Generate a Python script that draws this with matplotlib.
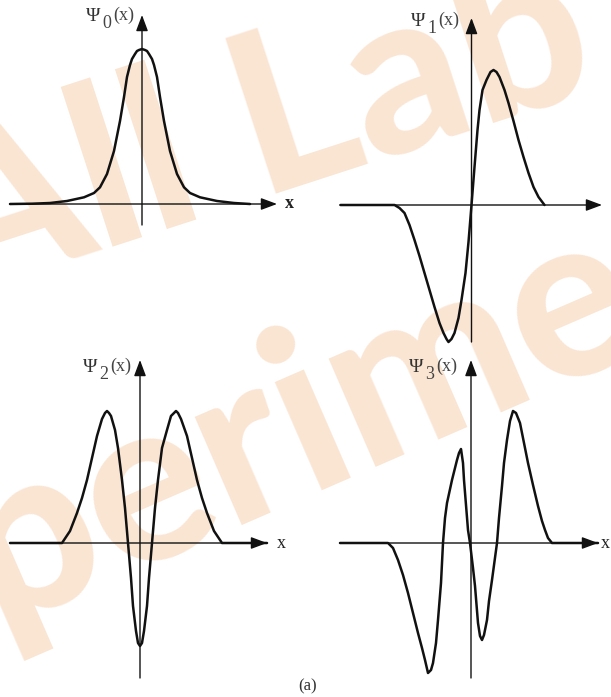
import matplotlib
matplotlib.use('Agg')
import matplotlib.pyplot as plt

W, H = 611, 697

# wavefunction shapes: x offset from the y axis, height above the x axis (px units)
psi0_x = [-132, -110, -92, -75, -58, -48, -42, -35, -28, -25, -22, -18, -15, -12, -10, -7, -5, -3, 0,
          3, 5, 7, 10, 12, 15, 18, 22, 25, 28, 35, 42, 48, 58, 75, 92, 108]
psi0_y = [0, 0.3, 1, 3, 6.7, 11, 16.7, 30, 53, 68, 83, 107, 127, 139, 145, 150, 153, 154, 155,
          154, 153, 150, 145, 139, 127, 107, 83, 68, 53, 30, 16.7, 11, 6.7, 3, 1, 0]

psi1_x = [-131, -77, -72, -67, -62, -57, -52, -47, -42, -37, -32, -28, -25, -23, -20, -17, -13, -10, -6, -3, 0,
          3, 6, 8, 11, 15, 19, 22, 25, 28, 33, 37, 42, 47, 52, 57, 62, 67, 73]
psi1_y = [0, 0, -3, -8, -20, -35, -51, -68, -85, -102, -118, -128, -134, -137, -134, -128, -113, -95, -68, -37, 0,
          38, 75, 95, 115, 125, 133, 135, 133, 128, 115, 102, 84, 65, 48, 32, 18, 8, 0]

psi2_x = [-130, -78, -70, -63, -58, -53, -48, -43, -38, -35, -33, -31, -29, -25, -22, -18, -15, -12, -9, -7, -4, -2, 0,
          2, 4, 7, 9, 12, 15, 18, 22, 27, 31, 34, 36, 38, 41, 47, 52, 57, 62, 67, 74, 82, 127]
psi2_y = [0, 0, 12, 30, 45, 63, 85, 107, 124, 130, 132, 130, 127, 113, 95, 63, 35, 0, -35, -63, -88, -100, -103,
          -100, -88, -63, -35, 0, 35, 63, 95, 113, 127, 130, 132, 130, 124, 107, 85, 63, 45, 30, 12, 0, 0]

psi3_x = [-131, -83, -78, -73, -68, -63, -58, -53, -49, -46, -43, -40, -38, -35, -33, -30, -28, -26, -24, -19, -14, -12,
          -10, -8, -7, -5, -3, -1, 2, 4, 7, 9, 11, 13, 16, 18, 21, 26, 28, 31, 33, 36, 39, 42, 45, 49, 53, 57, 62, 67,
          71, 74, 77, 81, 127]
psi3_y = [0, 0, -5, -17, -32, -50, -70, -90, -105, -117, -130, -127, -120, -100, -77, -40, 0, 25, 40, 63, 83, 90,
          94, 80, 63, 38, 13, 0, -25, -43, -80, -93, -97, -92, -77, -58, -37, 0, 25, 57, 80, 103, 122, 132, 130, 120,
          100, 80, 58, 37, 22, 13, 5, 0, 0]

fig = plt.figure(figsize=(W / 100, H / 100), dpi=100)
plt.rcParams['font.family'] = 'Liberation Serif'

# faint watermark behind everything
bg = fig.add_axes([0, 0, 1, 1], zorder=0)
bg.set_xlim(0, W)
bg.set_ylim(H, 0)
bg.axis('off')
wm = dict(color='#f5c297', alpha=0.42, family='Lato', fontweight='black',
          ha='left', va='baseline', rotation_mode='anchor')
bg.text(-50, 300, 'All Lab', rotation=18, fontsize=162, **wm)
bg.text(-236, 725, 'Experiments', rotation=23.5, fontsize=165, **wm)


def panel(rect, origin, xs, ys, axis_x, axis_y, sub, label_pos, xlabel=None):
    x0, y0, x1, y1 = rect
    ox, oy = origin
    ax = fig.add_axes([x0 / W, 1 - y1 / H, (x1 - x0) / W, (y1 - y0) / H], zorder=1)
    ax.set_xlim(x0 - ox, x1 - ox)
    ax.set_ylim(oy - y1, oy - y0)
    ax.axis('off')
    ax.patch.set_alpha(0)
    arr = dict(arrowstyle='-|>,head_length=0.75,head_width=0.28', color='#111111', lw=1.0,
               shrinkA=0, shrinkB=0, mutation_scale=13)
    ax.annotate('', xy=(axis_x[1] - ox, 0), xytext=(axis_x[0] - ox, 0), arrowprops=arr, annotation_clip=False)
    ax.annotate('', xy=(0, oy - axis_y[1]), xytext=(0, oy - axis_y[0]), arrowprops=arr, annotation_clip=False)
    ax.plot(xs, ys, color='#111111', lw=1.8, solid_capstyle='round', solid_joinstyle='round', clip_on=False)
    lx, ly = label_pos
    ax.text(lx - ox, oy - ly, 'Ψ', fontsize=14, color='#333333', ha='left', va='baseline')
    ax.text(lx + 16 - ox, oy - ly - 7, sub, fontsize=13, color='#444444', ha='left', va='baseline')
    ax.text(lx + 27 - ox, oy - ly + 1, '(x)', fontsize=13, color='#444444', ha='left', va='baseline')
    if xlabel:
        t, px, bold = xlabel
        ax.text(px - ox, 0, t, fontsize=13, color='#222222', ha='center', va='center',
                fontweight='bold' if bold else 'normal')
    return ax


panel((0, 0, 305, 348), (142, 204), psi0_x, psi0_y, (10, 277), (225, 15), '0', (86, 21),
      ('x', 289, True))
panel((305, 0, 611, 348), (471.5, 205), psi1_x, psi1_y, (340, 602), (342, 18), '1', (411, 26))
panel((0, 348, 305, 697), (140, 543), psi2_x, psi2_y, (10, 267), (678, 360), '2', (83, 372),
      ('x', 281, False))
panel((305, 348, 611, 697), (471, 543), psi3_x, psi3_y, (340, 598), (678, 360), '3', (409, 372),
      ('x', 605, False))

fig.text(308 / W, 1 - 686 / H, '(a)', fontsize=12, color='#333333', ha='center', va='center')

plt.savefig('out.png', dpi=100)
